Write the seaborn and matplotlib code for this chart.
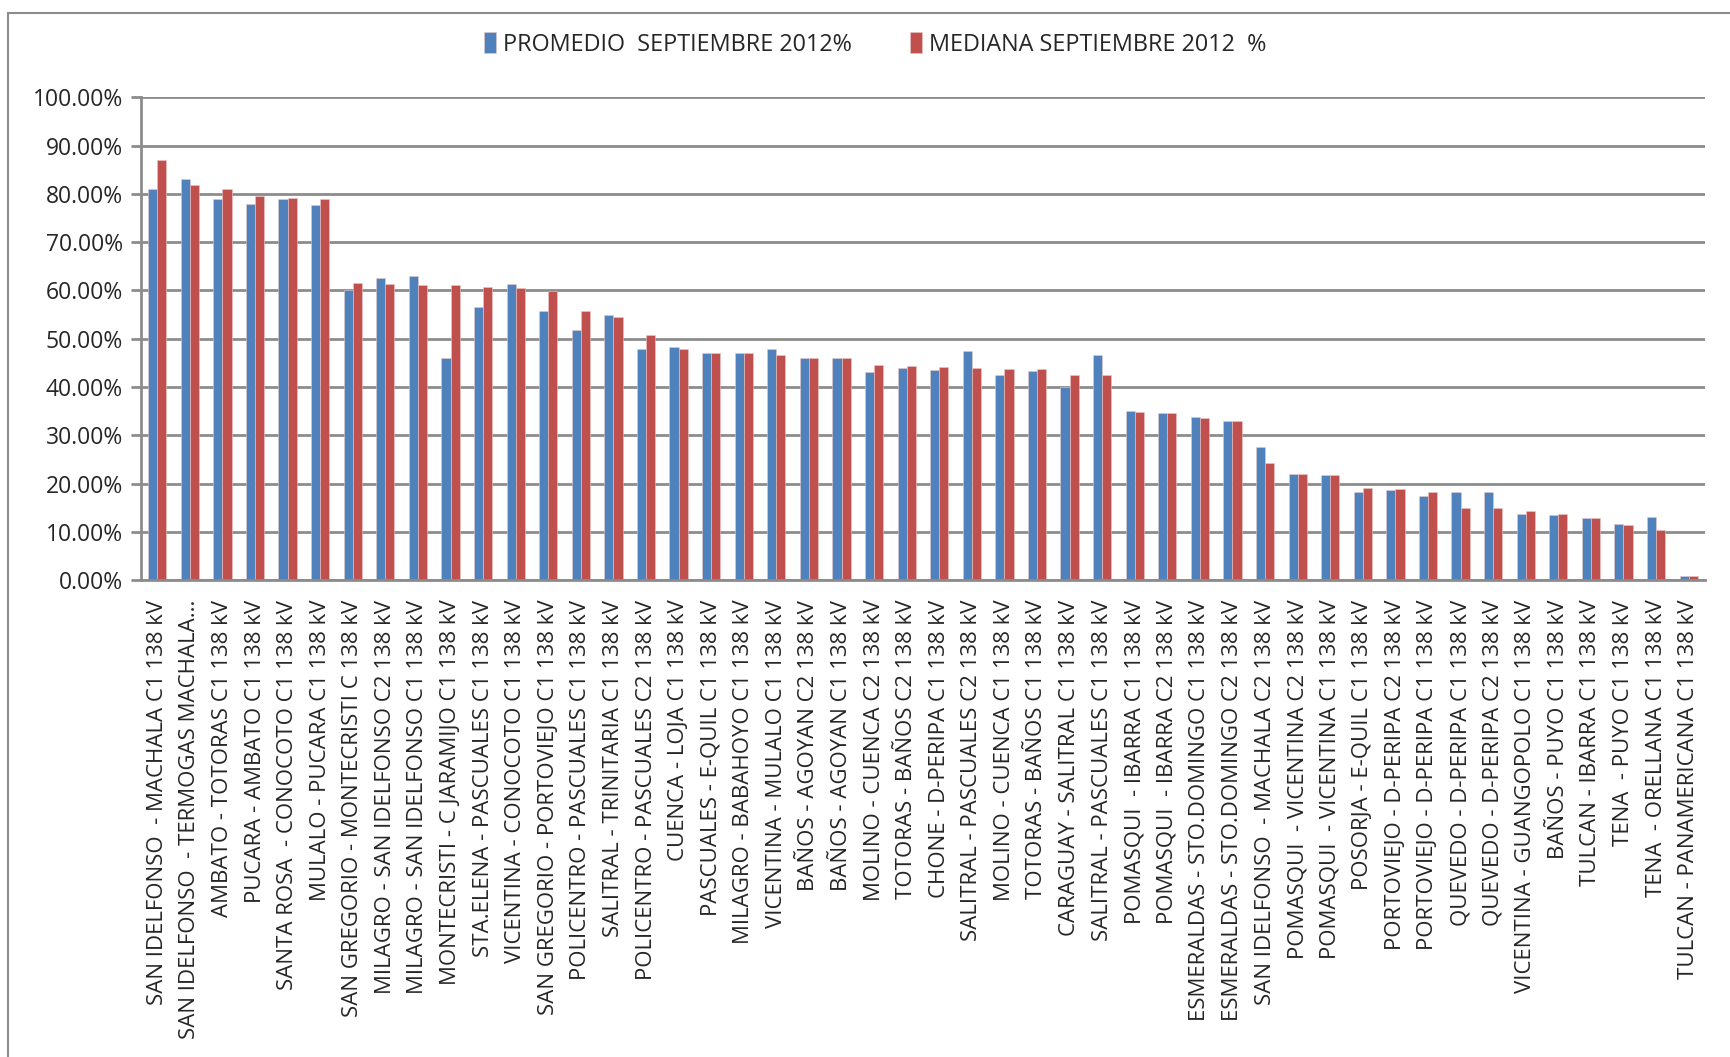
import matplotlib
matplotlib.use("Agg")
import matplotlib.pyplot as plt
import matplotlib.lines as mlines
from matplotlib.ticker import FixedLocator, FuncFormatter
import pandas as pd
import seaborn as sns

lineas = [
    "SAN IDELFONSO  - MACHALA C1 138 kV",
    "SAN IDELFONSO  - TERMOGAS MACHALA...",
    "AMBATO - TOTORAS C1 138 kV",
    "PUCARA - AMBATO C1 138 kV",
    "SANTA ROSA  - CONOCOTO C1 138 kV",
    "MULALO - PUCARA C1 138 kV",
    "SAN GREGORIO - MONTECRISTI C 138 kV",
    "MILAGRO - SAN IDELFONSO C2 138 kV",
    "MILAGRO - SAN IDELFONSO C1 138 kV",
    "MONTECRISTI - C JARAMIJO C1 138 kV",
    "STA.ELENA - PASCUALES C1 138 kV",
    "VICENTINA - CONOCOTO C1 138 kV",
    "SAN GREGORIO - PORTOVIEJO C1 138 kV",
    "POLICENTRO - PASCUALES C1 138 kV",
    "SALITRAL - TRINITARIA C1 138 kV",
    "POLICENTRO - PASCUALES C2 138 kV",
    "CUENCA - LOJA C1 138 kV",
    "PASCUALES - E-QUIL C1 138 kV",
    "MILAGRO - BABAHOYO C1 138 kV",
    "VICENTINA - MULALO C1 138 kV",
    "BAÑOS - AGOYAN C2 138 kV",
    "BAÑOS - AGOYAN C1 138 kV",
    "MOLINO - CUENCA C2 138 kV",
    "TOTORAS - BAÑOS C2 138 kV",
    "CHONE - D-PERIPA C1 138 kV",
    "SALITRAL - PASCUALES C2 138 kV",
    "MOLINO - CUENCA C1 138 kV",
    "TOTORAS - BAÑOS C1 138 kV",
    "CARAGUAY - SALITRAL C1 138 kV",
    "SALITRAL - PASCUALES C1 138 kV",
    "POMASQUI  - IBARRA C1 138 kV",
    "POMASQUI  - IBARRA C2 138 kV",
    "ESMERALDAS - STO.DOMINGO C1 138 kV",
    "ESMERALDAS - STO.DOMINGO C2 138 kV",
    "SAN IDELFONSO  - MACHALA C2 138 kV",
    "POMASQUI  - VICENTINA C2 138 kV",
    "POMASQUI  - VICENTINA C1 138 kV",
    "POSORJA - E-QUIL C1 138 kV",
    "PORTOVIEJO - D-PERIPA C2 138 kV",
    "PORTOVIEJO - D-PERIPA C1 138 kV",
    "QUEVEDO - D-PERIPA C1 138 kV",
    "QUEVEDO - D-PERIPA C2 138 kV",
    "VICENTINA - GUANGOPOLO C1 138 kV",
    "BAÑOS - PUYO C1 138 kV",
    "TULCAN - IBARRA C1 138 kV",
    "TENA  - PUYO C1 138 kV",
    "TENA  - ORELLANA C1 138 kV",
    "TULCAN - PANAMERICANA C1 138 kV",
]

promedio = [81.0, 83.0, 79.0, 77.8, 79.0, 77.6, 60.0, 62.5, 63.0, 46.0,
            56.6, 61.3, 55.8, 51.8, 55.0, 47.8, 48.2, 47.1, 47.0, 47.8,
            46.0, 46.1, 43.2, 44.0, 43.5, 47.5, 42.6, 43.4, 40.0, 46.6,
            35.0, 34.7, 33.8, 33.0, 27.5, 22.0, 21.8, 18.3, 18.7, 17.5,
            18.3, 18.3, 13.7, 13.5, 12.8, 11.6, 13.0, 0.8]
mediana = [87.0, 81.8, 81.0, 79.5, 79.2, 79.0, 61.5, 61.3, 61.2, 61.2,
           60.8, 60.6, 59.8, 55.7, 54.6, 50.8, 47.8, 47.1, 47.1, 46.7,
           46.1, 46.1, 44.6, 44.3, 44.2, 43.9, 43.8, 43.7, 42.6, 42.6,
           34.8, 34.7, 33.7, 32.9, 24.2, 22.1, 21.7, 19.1, 19.0, 18.2,
           15.0, 14.9, 14.4, 13.7, 12.8, 11.5, 10.4, 0.8]

series = ["PROMEDIO  SEPTIEMBRE 2012%", "MEDIANA SEPTIEMBRE 2012  %"]
colores = ["#4F81BD", "#C0504D"]

df = pd.DataFrame({
    "linea": lineas * 2,
    "valor": promedio + mediana,
    "serie": [series[0]] * len(lineas) + [series[1]] * len(lineas),
})

sns.set_style("white")
plt.rcParams["font.family"] = ["Open Sans", "DejaVu Sans"]

fig = plt.figure(figsize=(17.3, 10.57), dpi=100)
ax = fig.add_axes([0.0815, 0.451, 0.904, 0.457])

sns.barplot(data=df, x="linea", y="valor", hue="serie", order=lineas,
            hue_order=series, palette=colores, width=0.56, saturation=1,
            edgecolor="#e8c8c8", linewidth=0.4, ax=ax)

ax.set_ylim(0, 100)
ax.set_xlim(-0.5, len(lineas) - 0.5)
ax.set_yticks(range(0, 101, 10))
ax.yaxis.set_major_formatter(FuncFormatter(lambda v, p: f"{v:.2f}%"))
ax.yaxis.grid(True, color="#8c8c8c", linewidth=2)
ax.set_axisbelow(True)
ax.set_xlabel("")
ax.set_ylabel("")

for s in ["top", "right"]:
    ax.spines[s].set_visible(False)
for s in ["left", "bottom"]:
    ax.spines[s].set_color("#8c8c8c")
    ax.spines[s].set_linewidth(2)

ax.tick_params(axis="x", which="major", length=0, pad=14, labelsize=16,
               labelrotation=90)
ax.xaxis.set_minor_locator(FixedLocator([i - 0.5 for i in range(len(lineas) + 1)]))
ax.tick_params(axis="x", which="minor", length=7, width=2, color="#8c8c8c",
               direction="out")
ax.tick_params(axis="y", length=7, width=2, color="#8c8c8c", direction="out",
               labelsize=16.5, pad=6, left=True)
for lbl in ax.get_xticklabels():
    lbl.set_verticalalignment("top")

ax.legend(loc="center", bbox_to_anchor=(0.506, 0.958),
          bbox_transform=fig.transFigure, ncol=2, frameon=False,
          fontsize=16.8, handlelength=0.5, handleheight=1.0,
          handletextpad=0.3, columnspacing=2.5)

# outer chart frame (top and left edges visible in the original)
fig.add_artist(mlines.Line2D([8 / 1730, 1], [1 - 13 / 1057, 1 - 13 / 1057],
                             transform=fig.transFigure, color="#8c8c8c", lw=1.5))
fig.add_artist(mlines.Line2D([8 / 1730, 8 / 1730], [0, 1 - 13 / 1057],
                             transform=fig.transFigure, color="#8c8c8c", lw=1.5))

fig.savefig("out.png", dpi=100)
